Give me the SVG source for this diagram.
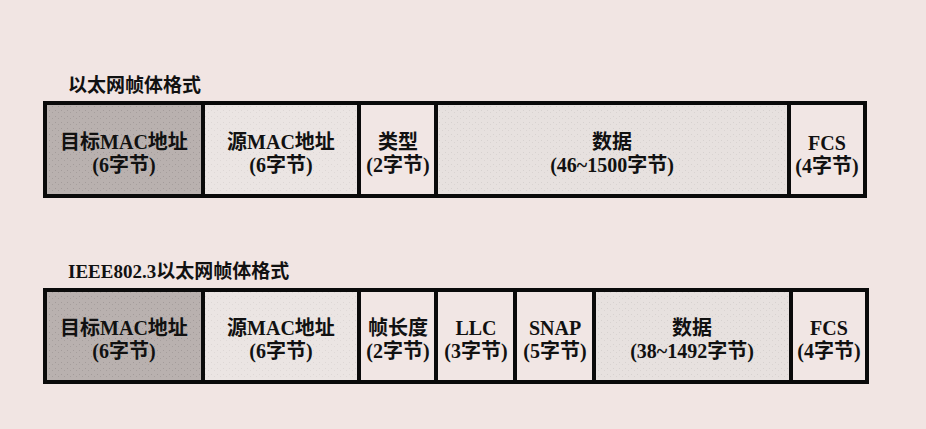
<svg xmlns="http://www.w3.org/2000/svg" width="926" height="429" viewBox="0 0 926 429">
<defs>
<pattern id="dots" width="6" height="6" patternUnits="userSpaceOnUse">
<rect width="6" height="6" fill="none"/>
<rect x="1" y="2" width="1" height="1" fill="#000" opacity="0.12"/>
<rect x="4" y="4" width="1" height="1" fill="#000" opacity="0.10"/>
</pattern>
</defs>
<style>
.t{font-family:"Liberation Serif","Noto Sans CJK SC",serif;fill:#111;font-size:20px;text-anchor:middle;font-weight:600}
.h{font-family:"Liberation Serif","Noto Sans CJK SC",serif;fill:#111;font-size:19px;font-weight:600}
.dark{fill:#b9b1af}
.light{fill:#ebe5e3}
.data{fill:#e7e1df}
.plain{fill:#f1e6e4}
.frame{fill:none;stroke:#0a0a0a;stroke-width:4}
.div{stroke:#0a0a0a;stroke-width:4}
</style>
<rect width="926" height="429" fill="#f1e5e3"/>
<text class="h" x="68" y="92">以太网帧体格式</text>
<text class="h" x="68" y="278">IEEE802.3以太网帧体格式</text>
<g id="frame1">
<g id="f1-dst"><rect class="dark" x="45" y="103" width="158" height="93"/><rect fill="url(#dots)" x="45" y="103" width="158" height="93"/>
<text class="t" x="124" y="149">目标MAC地址</text><text class="t" x="124" y="172">(6字节)</text></g>
<g id="f1-src"><rect class="light" x="203" y="103" width="156" height="93"/><rect fill="url(#dots)" x="203" y="103" width="156" height="93" opacity="0.5"/>
<text class="t" x="281" y="149">源MAC地址</text><text class="t" x="281" y="172">(6字节)</text></g>
<g id="f1-type"><rect class="plain" x="359" y="103" width="77" height="93"/>
<text class="t" x="398" y="149">类型</text><text class="t" x="398" y="172">(2字节)</text></g>
<g id="f1-data"><rect class="data" x="436" y="103" width="353" height="93"/><rect fill="url(#dots)" x="436" y="103" width="353" height="93" opacity="0.6"/>
<text class="t" x="612" y="149">数据</text><text class="t" x="612" y="172">(46~1500字节)</text></g>
<g id="f1-fcs"><rect class="plain" x="789" y="103" width="76" height="93"/>
<text class="t" x="827" y="150">FCS</text><text class="t" x="827" y="173">(4字节)</text></g>
<rect class="frame" x="45" y="103" width="820" height="93"/>
<line class="div" x1="203" y1="103" x2="203" y2="196"/>
<line class="div" x1="359" y1="103" x2="359" y2="196"/>
<line class="div" x1="436" y1="103" x2="436" y2="196"/>
<line class="div" x1="789" y1="103" x2="789" y2="196"/>
</g>
<g id="frame2">
<g id="f2-dst"><rect class="dark" x="45" y="290" width="158" height="92"/><rect fill="url(#dots)" x="45" y="290" width="158" height="92"/>
<text class="t" x="124" y="335">目标MAC地址</text><text class="t" x="124" y="358">(6字节)</text></g>
<g id="f2-src"><rect class="light" x="203" y="290" width="156" height="92"/><rect fill="url(#dots)" x="203" y="290" width="156" height="92" opacity="0.5"/>
<text class="t" x="281" y="335">源MAC地址</text><text class="t" x="281" y="358">(6字节)</text></g>
<g id="f2-len"><rect class="plain" x="359" y="290" width="77" height="92"/>
<text class="t" x="398" y="335">帧长度</text><text class="t" x="398" y="358">(2字节)</text></g>
<g id="f2-llc"><rect class="plain" x="436" y="290" width="79" height="92"/>
<text class="t" x="476" y="335">LLC</text><text class="t" x="476" y="358">(3字节)</text></g>
<g id="f2-snap"><rect class="plain" x="515" y="290" width="79" height="92"/>
<text class="t" x="555" y="335">SNAP</text><text class="t" x="555" y="358">(5字节)</text></g>
<g id="f2-data"><rect class="data" x="594" y="290" width="197" height="92"/><rect fill="url(#dots)" x="594" y="290" width="197" height="92" opacity="0.6"/>
<text class="t" x="692" y="335">数据</text><text class="t" x="692" y="358">(38~1492字节)</text></g>
<g id="f2-fcs"><rect class="plain" x="791" y="290" width="76" height="92"/>
<text class="t" x="829" y="335">FCS</text><text class="t" x="829" y="358">(4字节)</text></g>
<rect class="frame" x="45" y="290" width="822" height="92"/>
<line class="div" x1="203" y1="290" x2="203" y2="382"/>
<line class="div" x1="359" y1="290" x2="359" y2="382"/>
<line class="div" x1="436" y1="290" x2="436" y2="382"/>
<line class="div" x1="515" y1="290" x2="515" y2="382"/>
<line class="div" x1="594" y1="290" x2="594" y2="382"/>
<line class="div" x1="791" y1="290" x2="791" y2="382"/>
</g>
</svg>
